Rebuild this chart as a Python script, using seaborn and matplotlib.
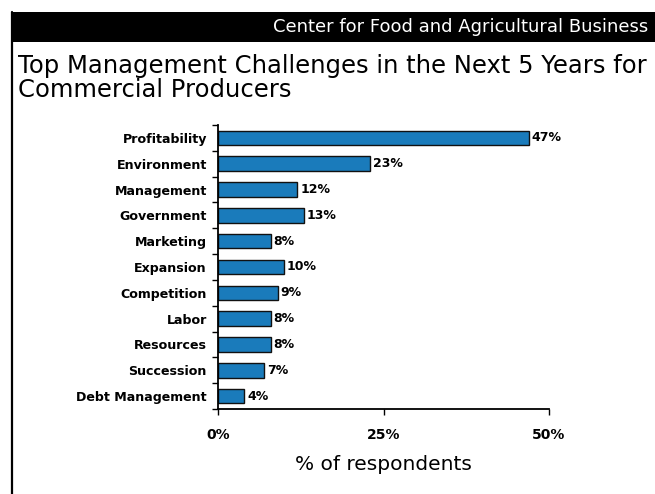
import matplotlib
matplotlib.use("Agg")
import matplotlib.pyplot as plt
import seaborn as sns
import pandas as pd
from matplotlib.patches import Rectangle
from matplotlib.lines import Line2D

# Survey results
challenges = ["Profitability", "Environment", "Management", "Government", "Marketing",
              "Expansion", "Competition", "Labor", "Resources", "Succession", "Debt Management"]
percent = [47, 23, 12, 13, 8, 10, 9, 8, 8, 7, 4]
x_ticks = [0, 25, 50]
x_tick_labels = ["0%", "25%", "50%"]

df = pd.DataFrame({"challenge": challenges, "percent": percent})

sns.set_theme(style="white")
plt.rcParams["font.family"] = ["DejaVu Sans"]

fig = plt.figure(figsize=(6.55, 4.94), dpi=100)
ax = fig.add_axes([218 / 655, 1 - 409 / 494, (549 - 218) / 655, (409 - 125) / 494])

sns.barplot(data=df, x="percent", y="challenge", orient="h", color="#1a7bbb",
            saturation=1, width=0.56, edgecolor="#111111", linewidth=1.0, ax=ax)

for i, v in enumerate(percent):
    ax.text(v + 0.4, i, f"{v}%", va="center", ha="left", fontsize=9,
            fontweight="bold", color="black")

ax.set_xlim(0, 50)
ax.set_ylim(len(challenges) - 0.5, -0.5)
ax.set_xticks(x_ticks)
ax.set_xticklabels(x_tick_labels, fontsize=10, fontweight="bold", color="black")
ax.set_yticks(range(len(challenges)))
ax.set_yticklabels(challenges, fontsize=9.1, fontweight="bold", color="black")
ax.set_yticks([i - 0.5 for i in range(len(challenges) + 1)], minor=True)
ax.tick_params(axis="y", which="major", length=0, pad=8)
ax.tick_params(axis="y", which="minor", left=True, length=4, width=1, color="black", direction="out")
ax.tick_params(axis="x", which="major", bottom=True, length=4, width=1, color="black", direction="out", pad=10)
ax.set_xlabel("% of respondents", fontsize=14.5, labelpad=9, color="black")
ax.set_ylabel("")
sns.despine(ax=ax)
for side in ["left", "bottom"]:
    ax.spines[side].set_color("black")
    ax.spines[side].set_linewidth(1.3)

# Header band and frame
fig.patches.append(Rectangle((11 / 655, 1 - 42 / 494), 1 - 11 / 655, 30 / 494,
                             transform=fig.transFigure, facecolor="black", edgecolor="none"))
fig.lines.append(Line2D([12 / 655, 12 / 655], [0, 1 - 12 / 494], transform=fig.transFigure,
                        color="black", linewidth=1.6))
fig.text(648 / 655, 1 - 27 / 494, "Center for Food and Agricultural Business",
         color="white", ha="right", va="center", fontsize=13)
fig.text(18 / 655, 1 - 54 / 494, "Top Management Challenges in the Next 5 Years for\nCommercial Producers",
         ha="left", va="top", fontsize=17.5, color="black", linespacing=1.0)

fig.savefig("out.png", dpi=100, facecolor="white")
